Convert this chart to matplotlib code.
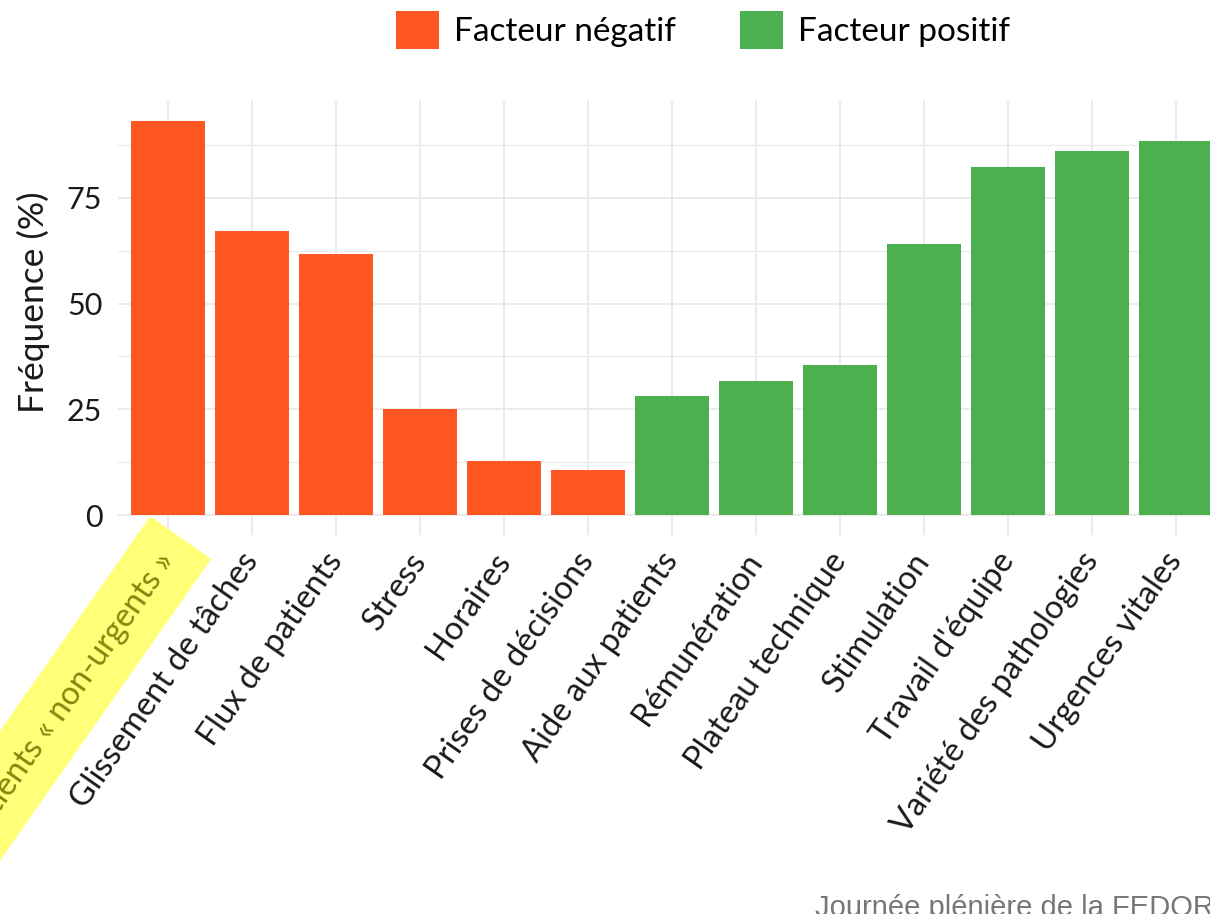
import matplotlib
matplotlib.use("Agg")
import matplotlib.pyplot as plt
from matplotlib.patches import Patch
from matplotlib.ticker import MultipleLocator

categories = [
    "Patients « non-urgents »", "Glissement de tâches", "Flux de patients",
    "Stress", "Horaires", "Prises de décisions", "Aide aux patients",
    "Rémunération", "Plateau technique", "Stimulation", "Travail d'équipe",
    "Variété des pathologies", "Urgences vitales",
]
frequence = [93.2, 67.1, 61.7, 25.1, 12.8, 10.6, 28.1, 31.7, 35.5, 64.1, 82.3, 86.1, 88.4]
facteur = ["neg"] * 6 + ["pos"] * 7
legend_labels = ["Facteur négatif", "Facteur positif"]
yticks = [0, 25, 50, 75]
ylabel = "Fréquence (%)"
footer = "Journée plénière de la FEDORU"

COL = {"neg": "#FF5722", "pos": "#4CAF50"}
GRID = "#EBEBEB"
FONT = ["Lato", "DejaVu Sans"]
plt.rcParams["font.family"] = FONT

W, H = 1210, 914
fig = plt.figure(figsize=(W / 100, H / 100), dpi=100)

# panel geometry in pixels
left_px = 168 - 0.6 * 84
right_px = left_px + 13.2 * 84
top_px, bot_px = 100.5, 535
ax = fig.add_axes([left_px / W, 1 - bot_px / H, (right_px - left_px) / W, (bot_px - top_px) / H])

x = list(range(len(categories)))
ax.bar(x, frequence, width=0.88, color=[COL[f] for f in facteur], zorder=2)
ax.set_xlim(-0.6, len(categories) - 0.4)
ax.set_ylim(-4.7, 98)

ax.set_yticks(yticks)
ax.yaxis.set_minor_locator(MultipleLocator(12.5))
ax.set_xticks(x)
ax.set_xticklabels(categories, rotation=55, ha="right", va="center",
                   rotation_mode="anchor")
ax.tick_params(axis="both", which="both", length=0, colors="#1a1a1a")
ax.tick_params(axis="x", pad=15, labelsize=23.5)
ax.tick_params(axis="y", pad=11, labelsize=22)
ax.grid(True, which="major", color=GRID, linewidth=1.4, zorder=0)
ax.grid(True, which="minor", axis="y", color=GRID, linewidth=0.9, zorder=0)
for s in ax.spines.values():
    s.set_visible(False)
ax.set_ylabel(ylabel, fontsize=25.5, color="#1a1a1a", labelpad=12)
ax.yaxis.label.set_y((bot_px - 302) / (bot_px - top_px))

# highlight the first label
first = ax.get_xticklabels()[0]
first.set_color("#858510")
first.set_bbox(dict(facecolor="#FFFF78", edgecolor="none", pad=16))

handles = [Patch(facecolor=COL["neg"]), Patch(facecolor=COL["pos"])]
fig.legend(handles, legend_labels, loc="center", bbox_to_anchor=(703 / W, 1 - 30 / H),
           ncol=2, frameon=False, fontsize=24, handlelength=1.3, handleheight=1.35,
           handletextpad=0.45, columnspacing=1.9)

fig.text(815 / W, 1 - 894 / H, footer, fontsize=21, color="#777777", ha="left", va="top",
         family=["Liberation Sans", "DejaVu Sans"])

fig.savefig("out.png", dpi=100)
